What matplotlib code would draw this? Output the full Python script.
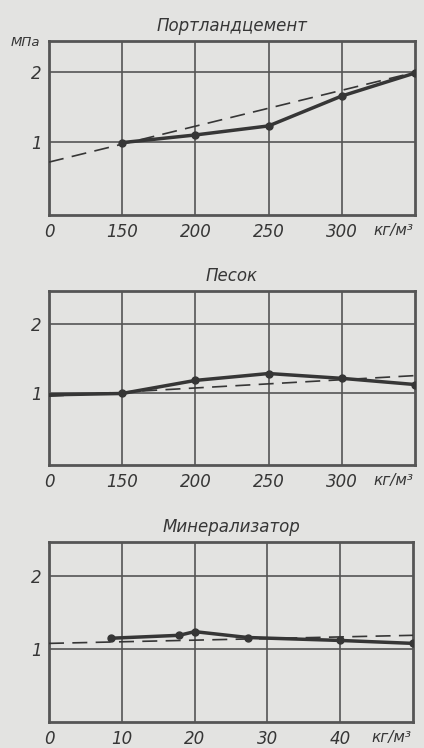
import matplotlib
matplotlib.use("Agg")
import matplotlib.pyplot as plt

# ---- data ----
cement_x = [150, 200, 250, 300, 350]
cement_solid = [0.99, 1.10, 1.23, 1.66, 1.99]
cement_dash_x = [100, 350]
cement_dash = [0.71, 2.00]

sand_x = [100, 150, 200, 250, 300, 350]
sand_solid = [0.97, 0.99, 1.18, 1.28, 1.21, 1.12]
sand_dash_x = [100, 350]
sand_dash = [0.95, 1.25]

mineral_x = [8.5, 17.9, 20.0, 27.3, 40.0, 50.0]
mineral_solid = [1.15, 1.19, 1.24, 1.16, 1.12, 1.08]
mineral_dash_x = [0, 50]
mineral_dash = [1.08, 1.19]

dose_ticks = [100, 150, 200, 250, 300]
dose_labels = ["0", "150", "200", "250", "300"]
min_ticks = [0, 10, 20, 30, 40]
min_labels = ["0", "10", "20", "30", "40"]
y_ticks = [1, 2]
y_labels = ["1", "2"]

titles = ["Портландцемент", "Песок", "Минерализатор"]
unit_x = "кг/м³"
unit_y = "МПа"

BG = "#e3e3e1"
INK = "#363636"
GRID = "#555555"

fig = plt.figure(figsize=(4.24, 7.48), dpi=100, facecolor=BG)

W = 424.0
H = 748.0
def rect(l, r, top, bot):
    return [l / W, 1 - bot / H, (r - l) / W, (bot - top) / H]

axes_specs = [
    dict(rect=rect(49, 415, 41, 215), ylim=(-0.05, 2.45), xlim=(100, 350),
         xs=cement_x, ys=cement_solid, dx=cement_dash_x, dy=cement_dash,
         ticks=dose_ticks, labels=dose_labels, mark_first=True),
    dict(rect=rect(49, 415, 291, 465), ylim=(-0.05, 2.48), xlim=(100, 350),
         xs=sand_x, ys=sand_solid, dx=sand_dash_x, dy=sand_dash,
         ticks=dose_ticks, labels=dose_labels, mark_first=False),
    dict(rect=rect(49, 413, 542, 722), ylim=(0.01, 2.46), xlim=(0, 50),
         xs=mineral_x, ys=mineral_solid, dx=mineral_dash_x, dy=mineral_dash,
         ticks=min_ticks, labels=min_labels, mark_first=True),
]

for i, sp in enumerate(axes_specs):
    ax = fig.add_axes(sp["rect"])
    ax.set_facecolor(BG)
    ax.set_xlim(*sp["xlim"])
    ax.set_ylim(*sp["ylim"])
    for s in ax.spines.values():
        s.set_color(GRID)
        s.set_linewidth(2.0)
    ax.set_xticks(sp["ticks"])
    ax.set_xticklabels(sp["labels"], fontsize=12, style="italic", color=INK)
    ax.set_yticks(y_ticks)
    ax.set_yticklabels(y_labels, fontsize=12, style="italic", color=INK)
    ax.tick_params(length=0, pad=5)
    ax.tick_params(axis="x", pad=6)
    # grid lines
    for t in sp["ticks"][1:]:
        ax.axvline(t, color=GRID, lw=1.2, zorder=1)
    for t in y_ticks:
        ax.axhline(t, color=GRID, lw=1.2, zorder=1)
    ax.plot(sp["dx"], sp["dy"], color=INK, lw=1.2, dashes=(9, 5), zorder=3)
    me = None if sp["mark_first"] else list(range(1, len(sp["xs"])))
    ax.plot(sp["xs"], sp["ys"], color=INK, lw=2.5, marker="o", ms=5,
            markevery=me, zorder=4)
    ax.set_title(titles[i], fontsize=12, style="italic", color=INK, pad=7)
    ax.text(0.94, -0.045, unit_x, transform=ax.transAxes, ha="center", va="top",
            fontsize=11, style="italic", color=INK)

fig.text(11 / W, 1 - 42 / H, unit_y, ha="left", va="center",
         fontsize=9.5, style="italic", color=INK)

fig.savefig("out.png", dpi=100, facecolor=BG)
